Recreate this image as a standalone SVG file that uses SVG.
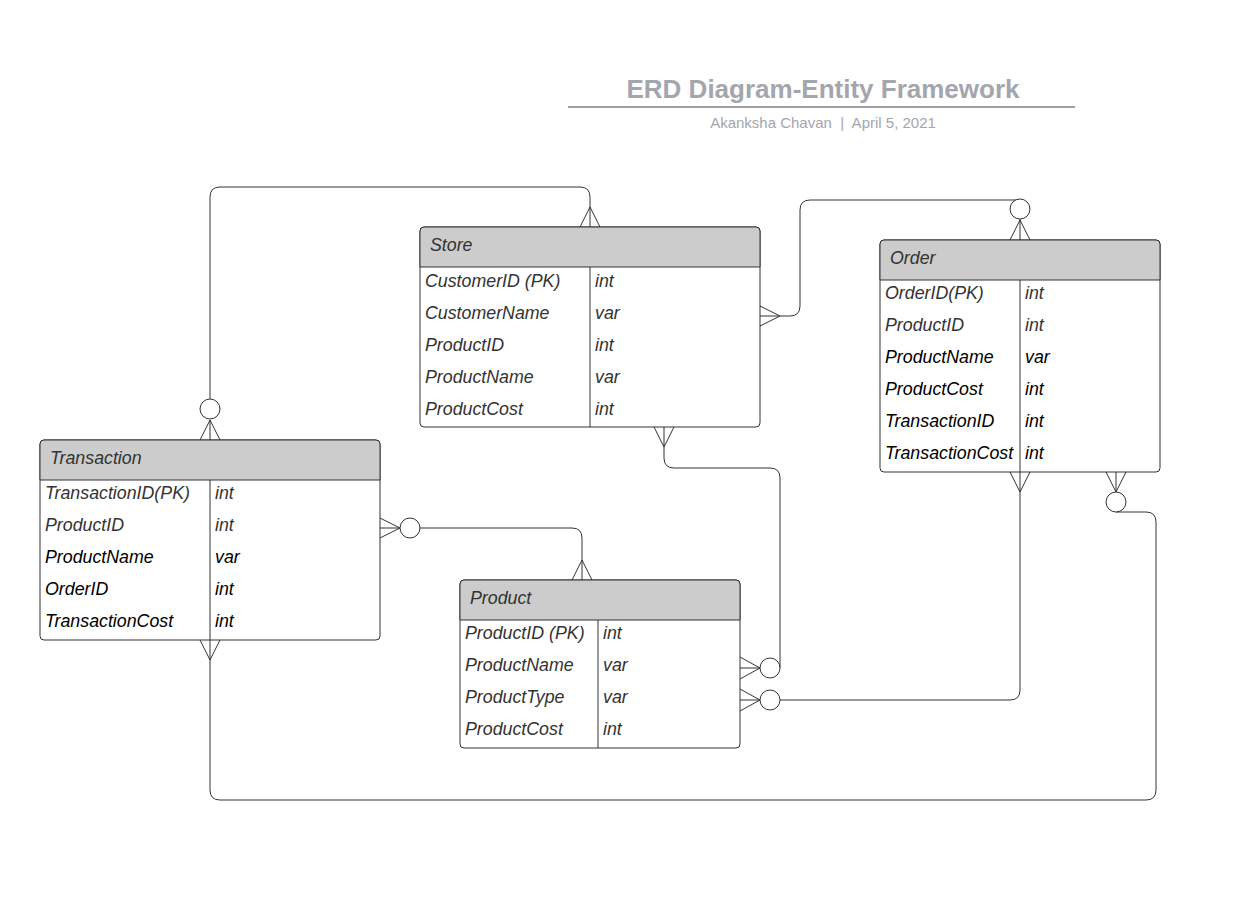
<svg xmlns="http://www.w3.org/2000/svg" width="1245" height="909" viewBox="0 0 1245 909">
<style>
.box{fill:#fff;stroke:#333;stroke-width:1}
.hdr{fill:#ccc;stroke:#333;stroke-width:1}
.ln{stroke:#333;stroke-width:1;fill:none}
.t{font-family:"Liberation Sans",Arial,sans-serif;font-size:17.8px;font-style:italic;fill:#333;dominant-baseline:central}
.k{fill:#000}
.title{font-family:"Liberation Sans",Arial,sans-serif;font-size:26px;font-weight:bold;fill:#a3a6ad;text-anchor:middle}
.sub{font-family:"Liberation Sans",Arial,sans-serif;font-size:15px;fill:#a3a6ad;text-anchor:middle}
.c{fill:#fff;stroke:#333;stroke-width:1}
</style>
<rect width="1245" height="909" fill="#fff"/>
<g id="title">
<text class="title" x="823" y="98">ERD Diagram-Entity Framework</text>
<line x1="568" y1="107" x2="1075" y2="107" stroke="#a0a0a0" stroke-width="2"/>
<text class="sub" x="823" y="128">Akanksha Chavan&#160; |&#160; April 5, 2021</text>
</g>
<g id="connectors">
<path class="ln" d="M210 440 V420 M210 399 V197 Q210 187 220 187 H580 Q590 187 590 197 V227"/>
<path class="ln" d="M200 440 L210 420 L220 440 M580 227 L590 207 L600 227"/>
<circle class="c" cx="210" cy="409" r="10"/>
<path class="ln" d="M760 316 H790 Q800 316 800 306 V210 Q800 200 810 200 H1020 M1020 219 V240"/>
<path class="ln" d="M760 306 L780 316 L760 326 M1010 240 L1020 220 L1030 240"/>
<circle class="c" cx="1020" cy="209" r="10"/>
<path class="ln" d="M664 427 V458 Q664 468 674 468 H770 Q780 468 780 478 V668"/>
<path class="ln" d="M654 427 L664 447 L674 427 M740 657 L760 668 L740 679 M740 668 H760"/>
<circle class="c" cx="770" cy="668" r="10"/>
<path class="ln" d="M740 700 H760 M780 700 H1010 Q1020 700 1020 690 V472"/>
<path class="ln" d="M740 689 L760 700 L740 711 M1010 472 L1020 492 L1030 472"/>
<circle class="c" cx="770" cy="700" r="10"/>
<path class="ln" d="M380 528 H400 M420 528 H572 Q582 528 582 538 V580"/>
<path class="ln" d="M380 518 L400 528 L380 538 M572 580 L582 560 L592 580"/>
<circle class="c" cx="410" cy="528" r="10"/>
<path class="ln" d="M1116 472 V492 M1116 512 H1146 Q1156 512 1156 522 V790 Q1156 800 1146 800 H220 Q210 800 210 790 V640"/>
<path class="ln" d="M1106 472 L1116 492 L1126 472 M200 640 L210 660 L220 640"/>
<circle class="c" cx="1116" cy="502" r="10"/>
</g>
<g id="store">
<rect class="box" x="420" y="227" width="340" height="200" rx="4"/>
<path class="hdr" d="M424 227 H756 Q760 227 760 231 V267 H420 V231 Q420 227 424 227 Z"/>
<line class="ln" x1="590" y1="267" x2="590" y2="427"/>
<text class="t" x="430" y="245">Store</text>
<text class="t" x="425" y="281">CustomerID (PK)</text><text class="t" x="595" y="281">int</text>
<text class="t" x="425" y="313">CustomerName</text><text class="t" x="595" y="313">var</text>
<text class="t" x="425" y="345">ProductID</text><text class="t" x="595" y="345">int</text>
<text class="t" x="425" y="377">ProductName</text><text class="t" x="595" y="377">var</text>
<text class="t" x="425" y="409">ProductCost</text><text class="t" x="595" y="409">int</text>
</g>
<g id="order">
<rect class="box" x="880" y="240" width="280" height="232" rx="4"/>
<path class="hdr" d="M884 240 H1156 Q1160 240 1160 244 V280 H880 V244 Q880 240 884 240 Z"/>
<line class="ln" x1="1020" y1="280" x2="1020" y2="472"/>
<text class="t" x="890" y="258">Order</text>
<text class="t" x="885" y="293">OrderID(PK)</text><text class="t" x="1025" y="293">int</text>
<text class="t" x="885" y="325">ProductID</text><text class="t" x="1025" y="325">int</text>
<text class="t k" x="885" y="357">ProductName</text><text class="t k" x="1025" y="357">var</text>
<text class="t k" x="885" y="389">ProductCost</text><text class="t k" x="1025" y="389">int</text>
<text class="t k" x="885" y="421">TransactionID</text><text class="t k" x="1025" y="421">int</text>
<text class="t k" x="885" y="453">TransactionCost</text><text class="t k" x="1025" y="453">int</text>
</g>
<g id="transaction">
<rect class="box" x="40" y="440" width="340" height="200" rx="4"/>
<path class="hdr" d="M44 440 H376 Q380 440 380 444 V480 H40 V444 Q40 440 44 440 Z"/>
<line class="ln" x1="210" y1="480" x2="210" y2="640"/>
<text class="t" x="50" y="458">Transaction</text>
<text class="t" x="45" y="493">TransactionID(PK)</text><text class="t" x="215" y="493">int</text>
<text class="t" x="45" y="525">ProductID</text><text class="t" x="215" y="525">int</text>
<text class="t k" x="45" y="557">ProductName</text><text class="t k" x="215" y="557">var</text>
<text class="t k" x="45" y="589">OrderID</text><text class="t k" x="215" y="589">int</text>
<text class="t k" x="45" y="621">TransactionCost</text><text class="t k" x="215" y="621">int</text>
</g>
<g id="product">
<rect class="box" x="460" y="580" width="280" height="168" rx="4"/>
<path class="hdr" d="M464 580 H736 Q740 580 740 584 V620 H460 V584 Q460 580 464 580 Z"/>
<line class="ln" x1="598" y1="620" x2="598" y2="748"/>
<text class="t" x="470" y="598">Product</text>
<text class="t" x="465" y="633">ProductID (PK)</text><text class="t" x="603" y="633">int</text>
<text class="t" x="465" y="665">ProductName</text><text class="t" x="603" y="665">var</text>
<text class="t" x="465" y="697">ProductType</text><text class="t" x="603" y="697">var</text>
<text class="t" x="465" y="729">ProductCost</text><text class="t" x="603" y="729">int</text>
</g>
</svg>
